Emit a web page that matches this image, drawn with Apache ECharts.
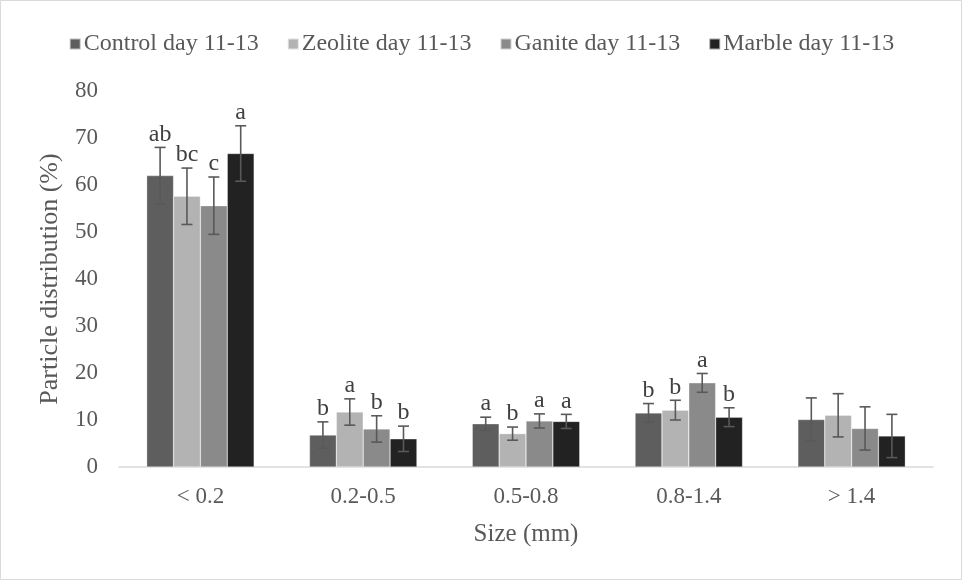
<!DOCTYPE html>
<html><head><meta charset="utf-8">
<script src="https://cdn.jsdelivr.net/npm/echarts@6/dist/echarts.min.js"></script>
<style>html,body{margin:0;padding:0;background:#fff}#c{width:963px;height:581px}</style>
</head><body><div id="c"></div>
<script>
const categories = ['< 0.2', '0.2-0.5', '0.5-0.8', '0.8-1.4', '> 1.4'];
const seriesNames = ['Control day 11-13', 'Zeolite day 11-13', 'Ganite day 11-13', 'Marble day 11-13'];
const control = [62.0, 6.8, 9.2, 11.5, 10.1];
const zeolite = [57.6, 11.7, 7.1, 12.1, 11.0];
const ganite = [55.6, 8.1, 9.8, 17.9, 8.2];
const marble = [66.7, 6.0, 9.7, 10.6, 6.6];
const controlErr = [6.0, 2.8, 1.4, 2.0, 4.6];
const zeoliteErr = [6.0, 2.8, 1.4, 2.1, 4.6];
const ganiteErr = [6.1, 2.8, 1.5, 2.0, 4.6];
const marbleErr = [5.9, 2.7, 1.5, 2.0, 4.6];
const controlLetters = ['ab', 'b', 'a', 'b', ''];
const zeoliteLetters = ['bc', 'a', 'b', 'b', ''];
const ganiteLetters = ['c', 'b', 'a', 'a', ''];
const marbleLetters = ['a', 'b', 'a', 'b', ''];
const yTicks = [0, 10, 20, 30, 40, 50, 60, 70, 80];

const colors = ['#5e5e5e', '#b3b3b3', '#8a8a8a', '#222222'];
const values = [control, zeolite, ganite, marble];
const errs = [controlErr, zeoliteErr, ganiteErr, marbleErr];
const letters = [controlLetters, zeoliteLetters, ganiteLetters, marbleLetters];
const FONT = 'Liberation Serif';
const CAT_GAP = 0.34;

const errData = [];
const errLetters = [];
for (let s = 0; s < 4; s++) {
  for (let c = 0; c < categories.length; c++) {
    errData.push([c, s, values[s][c], errs[s][c]]);
    errLetters.push(letters[s][c]);
  }
}

const chart = echarts.init(document.getElementById('c'));
const series = seriesNames.map((n, i) => ({
  name: n, type: 'bar', data: values[i],
  barGap: '0%', barCategoryGap: (CAT_GAP * 100) + '%',
  itemStyle: { color: colors[i], borderColor: 'rgba(255,255,255,0.6)', borderWidth: 0.5 },
  emphasis: { disabled: true }
}));
series.push({
  type: 'custom', z: 10, data: errData,
  renderItem: function (params, api) {
    const c = api.value(0), s = api.value(1), v = api.value(2), e = api.value(3);
    const band = api.size([1, 0])[0];
    const bw = band * (1 - CAT_GAP) / 4;
    const cx = api.coord([c, 0])[0] + (s - 1.5) * bw;
    const yt = api.coord([c, v + e])[1];
    const yb = api.coord([c, v - e])[1];
    const hw = 5.5;
    const st = { stroke: '#595959', lineWidth: 1.6 };
    const children = [
      { type: 'line', shape: { x1: cx, y1: yt, x2: cx, y2: yb }, style: st },
      { type: 'line', shape: { x1: cx - hw, y1: yt, x2: cx + hw, y2: yt }, style: st },
      { type: 'line', shape: { x1: cx - hw, y1: yb, x2: cx + hw, y2: yb }, style: st }
    ];
    const t = errLetters[params.dataIndex];
    if (t) {
      children.push({ type: 'text', style: { text: t, x: cx, y: yt - 1, align: 'center', verticalAlign: 'bottom',
        font: '24px "' + FONT + '"', fill: '#404040' } });
    }
    return { type: 'group', children: children };
  }
});

chart.setOption({
  animation: false,
  textStyle: { fontFamily: FONT },
  graphic: [{ type: 'rect', shape: { x: 0.5, y: 0.5, width: 961, height: 579 }, style: { fill: 'none', stroke: '#d9d9d9', lineWidth: 1 }, silent: true }],
  legend: {
    data: seriesNames, top: 27, left: 'center', itemWidth: 11, itemHeight: 11, itemGap: 28,
    icon: 'rect',
    textStyle: { fontFamily: FONT, fontSize: 24, color: '#595959', padding: [0, 0, 0, -2] }
  },
  grid: { left: 119, right: 30, top: 91, bottom: 114 },
  xAxis: {
    type: 'category', data: categories,
    name: 'Size (mm)', nameLocation: 'middle', nameGap: 55,
    nameTextStyle: { fontFamily: FONT, fontSize: 25, color: '#595959' },
    axisLine: { lineStyle: { color: '#d9d9d9', width: 1.5 } },
    axisTick: { show: false },
    axisLabel: { fontFamily: FONT, fontSize: 23, color: '#595959', margin: 18 }
  },
  yAxis: {
    type: 'value', min: yTicks[0], max: yTicks[yTicks.length - 1], interval: yTicks[1] - yTicks[0],
    name: 'Particle distribution (%)', nameLocation: 'middle', nameGap: 56, nameRotate: 90,
    nameTextStyle: { fontFamily: FONT, fontSize: 26, color: '#595959' },
    axisLine: { show: false }, axisTick: { show: false }, splitLine: { show: false },
    axisLabel: { fontFamily: FONT, fontSize: 23, color: '#595959', margin: 21 }
  },
  series: series
});
</script></body></html>
